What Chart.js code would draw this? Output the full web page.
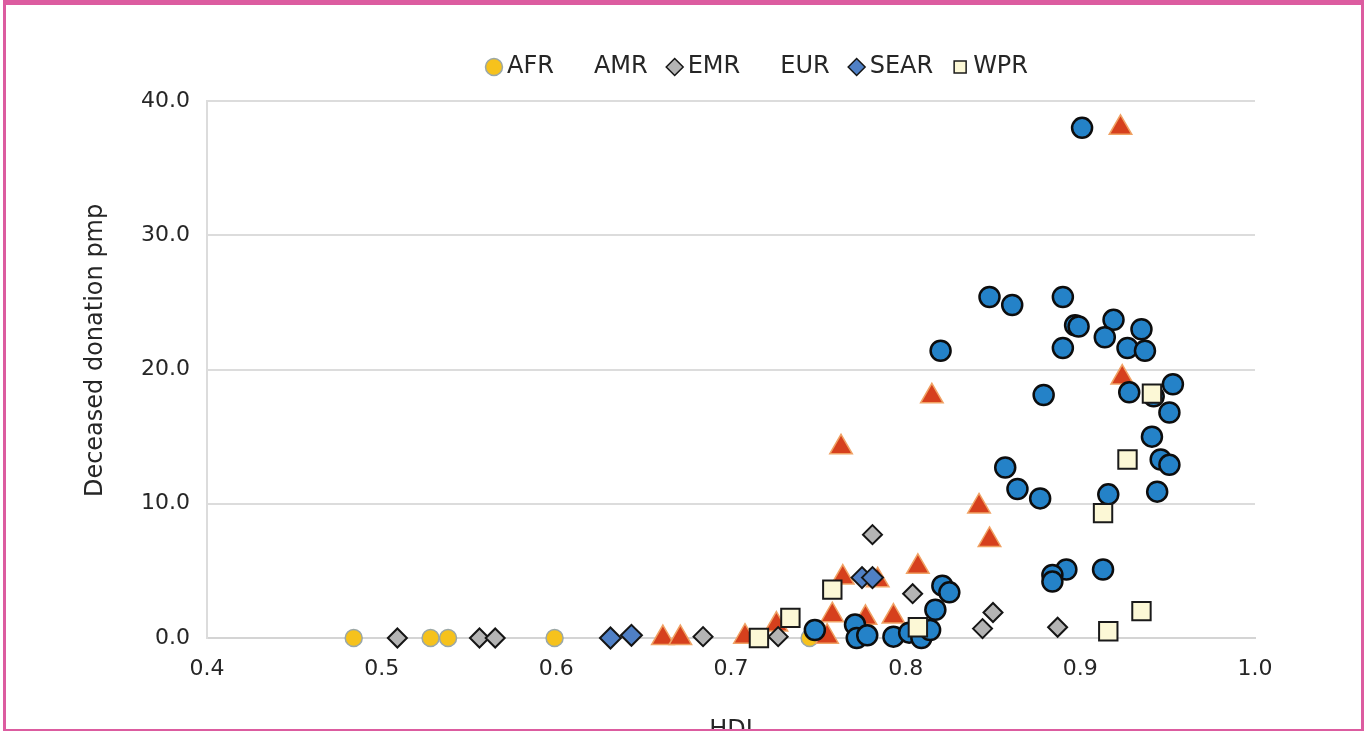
<!DOCTYPE html>
<html>
<head>
<meta charset="utf-8">
<script src="https://cdn.jsdelivr.net/npm/chart.js@4.4.1/dist/chart.umd.min.js"></script>
<style>
  html, body { margin: 0; padding: 0; background: #fff; }
  #frame {
    position: absolute; left: 3px; top: 0; width: 1361px; height: 731px;
    box-sizing: border-box; overflow: hidden;
    border: 3px solid #dc5ca0; border-top-width: 5px; border-bottom-width: 2px;
  }
  #pCanvas { position: absolute; left: -6px; top: -5px; }
</style>
</head>
<body>
<div id="frame"><canvas id="pCanvas" width="1367" height="760"></canvas></div>
<script>
// HDI (x) vs deceased donation pmp (y), per WHO region
const afrX = [ 0.484, 0.528, 0.538, 0.599, 0.745 ];
const afrY = [ 0, 0, 0, 0, 0 ];

const amrX = [ 0.661, 0.671, 0.708, 0.726, 0.764, 0.784, 0.758, 0.755, 0.777, 0.793, 0.807, 0.763, 0.815, 0.842, 0.848, 0.923, 0.924 ];
const amrY = [ 0, 0, 0.1, 1.0, 4.5, 4.3, 1.7, 0.1, 1.5, 1.6, 5.3, 14.2, 18.0, 9.8, 7.3, 38.0, 19.4 ];

const emrX = [ 0.509, 0.556, 0.565, 0.684, 0.727, 0.781, 0.804, 0.844, 0.850, 0.887 ];
const emrY = [ 0, 0, 0, 0.1, 0.1, 7.7, 3.3, 0.7, 1.9, 0.8 ];

const eurX = [ 0.901, 0.848, 0.861, 0.890, 0.897, 0.899, 0.919, 0.914, 0.935, 0.890, 0.927, 0.937, 0.820,
  0.879, 0.928, 0.942, 0.953, 0.951, 0.941, 0.946, 0.951, 0.857, 0.864, 0.877, 0.916, 0.944,
  0.892, 0.884, 0.884, 0.913, 0.821, 0.825, 0.817, 0.748, 0.771, 0.772, 0.778, 0.793, 0.802, 0.809, 0.814 ];
const eurY = [ 38.0, 25.4, 24.8, 25.4, 23.3, 23.2, 23.7, 22.4, 23.0, 21.6, 21.6, 21.4, 21.4,
  18.1, 18.3, 18.0, 18.9, 16.8, 15.0, 13.3, 12.9, 12.7, 11.1, 10.4, 10.7, 10.9,
  5.1, 4.7, 4.2, 5.1, 3.9, 3.4, 2.1, 0.6, 1.0, 0.0, 0.2, 0.1, 0.4, 0.0, 0.6 ];

const searX = [ 0.631, 0.643, 0.775, 0.781 ];
const searY = [ 0, 0.2, 4.5, 4.5 ];

const wprX = [ 0.716, 0.734, 0.758, 0.807, 0.913, 0.927, 0.941, 0.916, 0.935 ];
const wprY = [ 0.0, 1.5, 3.6, 0.8, 9.3, 13.3, 18.2, 0.5, 2.0 ];

const xTicks = [ 0.4, 0.5, 0.6, 0.7, 0.8, 0.9, 1.0 ];
const yTicks = [ 0, 10, 20, 30, 40 ];

const FONT = "'DejaVu Sans', sans-serif";
const TEXT = "#262626";

const pts = ( xs, ys ) => xs.map( ( x, i ) => ( { x, y: ys[ i ] } ) );

function region ( label, xs, ys, style, order, showMarker ) {
  return {
    label,
    data: pts( xs, ys ),
    order,
    clip: false,
    showMarker,
    pointStyle: style.shape,
    pointRadius: style.r,
    pointHoverRadius: style.r,
    pointBackgroundColor: style.fill,
    pointBorderColor: style.line,
    pointBorderWidth: style.w,
    backgroundColor: style.fill,
    borderColor: style.line
  };
};

const datasets = [
  region( "AFR", afrX, afrY, { shape: "circle", r: 8.5, fill: "#f6c21c", line: "#9aa7a8", w: 1.5 }, 5, true ),
  region( "AMR", amrX, amrY, { shape: "triangle", r: 13, fill: "#d6401d", line: "#f0a264", w: 1.5 }, 4, false ),
  region( "EMR", emrX, emrY, { shape: "rectRot", r: 9.5, fill: "#b4b4b4", line: "#151515", w: 2 }, 3, true ),
  region( "EUR", eurX, eurY, { shape: "circle", r: 10, fill: "#2482c8", line: "#0d0d0d", w: 2.5 }, 1, false ),
  region( "SEAR", searX, searY, { shape: "rectRot", r: 10.5, fill: "#4f80c6", line: "#151515", w: 2 }, 2, true ),
  region( "WPR", wprX, wprY, { shape: "rect", r: 13, fill: "#fcf8d6", line: "#1a1a1a", w: 2 }, 0, true )
];

// legend sits off-centre and above where chart.js would put it
const shiftLegend = {
  id: "shiftLegend",
  afterLayout ( chart ) {
    const l = chart.legend;
    l.left += 98; l.right += 98;
    l.top -= 12; l.bottom -= 12;
  }
};

const canvas = document.getElementById( "pCanvas" );
new Chart( canvas.getContext( "2d" ), {
  type: "scatter",
  data: { datasets },
  plugins: [ shiftLegend ],
  options: {
    responsive: false,
    devicePixelRatio: 1,
    animation: false,
    layout: { padding: { left: 70, right: 112, top: 41, bottom: 0 } },
    plugins: {
      tooltip: { enabled: false },
      legend: {
        position: "top",
        labels: {
          usePointStyle: true,
          boxWidth: 2,
          boxHeight: 12,
          padding: 26,
          color: TEXT,
          font: { family: FONT, size: 24 },
          generateLabels: chart => chart.data.datasets.map( ( ds, i ) => ( {
            text: ds.label,
            datasetIndex: i,
            pointStyle: ds.pointStyle,
            fillStyle: ds.showMarker ? ds.pointBackgroundColor : "rgba(0,0,0,0)",
            strokeStyle: ds.showMarker ? ds.pointBorderColor : "rgba(0,0,0,0)",
            lineWidth: ds.showMarker ? Math.min( ds.pointBorderWidth, 1.5 ) : 0,
            fontColor: TEXT,
            hidden: false
          } ) )
        }
      }
    },
    scales: {
      x: {
        type: "linear",
        min: xTicks[ 0 ],
        max: xTicks[ xTicks.length - 1 ],
        afterFit: s => { s.height = 122; },
        afterBuildTicks: s => { s.ticks = xTicks.map( v => ( { value: v } ) ); },
        ticks: {
          padding: 18,
          color: TEXT,
          font: { family: FONT, size: 22 },
          callback: v => Number( v ).toFixed( 1 )
        },
        grid: { display: false, drawTicks: false },
        border: { display: true, color: "#d4d4d4", width: 2 },
        title: {
          display: true,
          text: "HDI",
          color: TEXT,
          font: { family: FONT, size: 24 },
          padding: { top: 0, bottom: 15 }
        }
      },
      y: {
        min: yTicks[ 0 ],
        max: yTicks[ yTicks.length - 1 ],
        afterFit: s => { s.width = 137; },
        afterBuildTicks: s => { s.ticks = yTicks.map( v => ( { value: v } ) ); },
        ticks: {
          padding: 17,
          color: TEXT,
          font: { family: FONT, size: 22 },
          callback: v => Number( v ).toFixed( 1 )
        },
        grid: { color: "#dcdcdc", lineWidth: 2, drawTicks: false },
        border: { display: true, color: "#dcdcdc", width: 2 },
        title: {
          display: true,
          text: "     Deceased donation pmp",
          color: TEXT,
          font: { family: FONT, size: 24 },
          padding: { top: 11, bottom: 0 }
        }
      }
    }
  }
} );
</script>
</body>
</html>
